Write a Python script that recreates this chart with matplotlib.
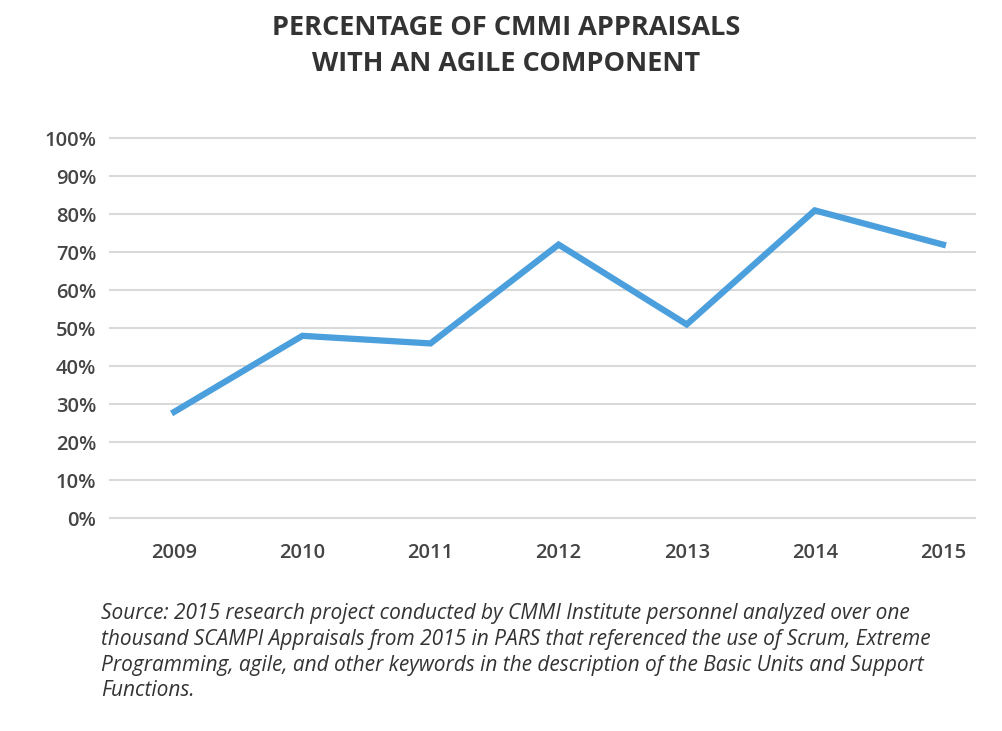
import matplotlib.pyplot as plt

years = ["2009", "2010", "2011", "2012", "2013", "2014", "2015"]
pct = [28, 48, 46, 72, 51, 81, 72]
y_ticks = list(range(0, 101, 10))

plt.rcParams["font.family"] = ["Open Sans", "DejaVu Sans"]

fig = plt.figure(figsize=(10.02, 7.31), dpi=100)
ax = fig.add_axes([0.11, 0.291, 0.863, 0.52])

x = list(range(len(years)))
ax.plot(x, pct, color="#4a9fdc", lw=4.5, solid_joinstyle="miter", zorder=3)

ax.set_xlim(-0.5, 6.25)
ax.set_ylim(0, 100)
ax.set_yticks(y_ticks)
ax.set_yticklabels([f"{v}%" for v in y_ticks])
ax.set_xticks(x)
ax.set_xticklabels(years)
for v in y_ticks:
    ax.axhline(v, color="#d9d9d9", lw=1.5, zorder=1, clip_on=False)
for s in ax.spines.values():
    s.set_visible(False)
ax.tick_params(length=0, labelsize=14.5, colors="#444444")
for lab in ax.get_xticklabels() + ax.get_yticklabels():
    lab.set_fontweight("semibold")
ax.tick_params(axis="x", pad=18)
ax.tick_params(axis="y", pad=10)

fig.text(0.505, 0.962, "PERCENTAGE OF CMMI APPRAISALS", ha="center", va="center",
         fontsize=19.5, fontweight="bold", color="#333333")
fig.text(0.505, 0.912, "WITH AN AGILE COMPONENT", ha="center", va="center",
         fontsize=19.5, fontweight="bold", color="#333333")

source = ("Source: 2015 research project conducted by CMMI Institute personnel analyzed over one\n"
          "thousand SCAMPI Appraisals from 2015 in PARS that referenced the use of Scrum, Extreme\n"
          "Programming, agile, and other keywords in the description of the Basic Units and Support\n"
          "Functions.")
fig.text(0.101, 0.175, source, ha="left", va="top", fontsize=15, style="italic",
         color="#333333", linespacing=1.3)

fig.savefig("out.png", dpi=100)
